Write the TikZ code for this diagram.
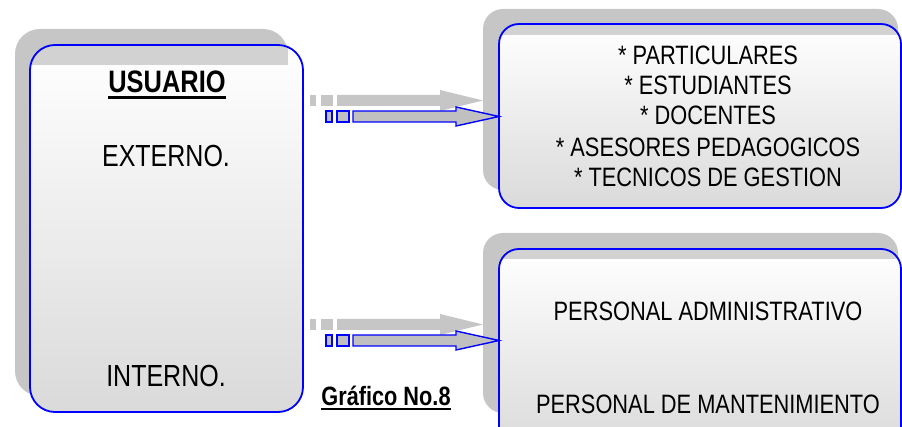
\documentclass[tikz,border=0pt]{standalone}
\usepackage{fontspec}
\setmainfont{Liberation Sans}[FakeStretch=0.82]
\definecolor{shadowgray}{HTML}{C6C6C6}
\definecolor{bandgray}{HTML}{D2D2D2}
\definecolor{boxblue}{HTML}{0000FF}
\definecolor{botgray}{HTML}{DADADA}
\definecolor{arrowgray}{HTML}{C0C0C0}
\begin{document}
\begin{tikzpicture}[x=1pt,y=-1pt,
  shadowbox/.style={fill=shadowgray},
  mainfill/.style={top color=white,bottom color=botgray},
  mainline/.style={draw=boxblue,line width=1.8pt},
  band/.style={fill=bandgray},
  grayarrow/.style={fill=shadowgray},
  bluearrow/.style={fill=arrowgray,draw=boxblue,line width=1.4pt,line join=miter},
  bigtext/.style={font=\fontsize{30.5}{34}\selectfont,inner sep=0pt,anchor=base},
  listtext/.style={font=\fontsize{26.6}{30}\selectfont,inner sep=0pt,anchor=base},
  titletext/.style={font=\bfseries\fontsize{31}{34}\selectfont,inner sep=0pt,anchor=base},
  captext/.style={font=\bfseries\fontsize{26.5}{30}\selectfont,inner sep=0pt,anchor=base}]
\useasboundingbox (0,0) rectangle (902,427);
\fill[white] (0,0) rectangle (902,427);

% ---- left box
\fill[shadowbox,rounded corners=25pt] (15,29) rectangle (288,396);
\path[mainfill,rounded corners=25pt] (30,45) rectangle (303,412);
\begin{scope}
  \clip[rounded corners=25pt] (30,45) rectangle (303,412);
  \fill[band] (30,45) rectangle (288,65);
\end{scope}
\draw[mainline,rounded corners=25pt] (30,45) rectangle (303,412);

% ---- top right box
\fill[shadowbox,rounded corners=20pt] (483,9) rectangle (898,190);
\path[mainfill,rounded corners=20pt] (499,24) rectangle (901,208);
\begin{scope}
  \clip[rounded corners=20pt] (499,24) rectangle (901,208);
  \fill[band] (499,24) rectangle (898,35);
\end{scope}
\draw[mainline,rounded corners=20pt] (499,24) rectangle (901,208);

% ---- bottom right box
\fill[shadowbox,rounded corners=20pt] (483,233) rectangle (898,413);
\path[mainfill,rounded corners=20pt] (499,249) rectangle (901,450);
\begin{scope}
  \clip[rounded corners=20pt] (499,249) rectangle (901,450);
  \fill[band] (499,249) rectangle (898,259);
\end{scope}
\draw[mainline,rounded corners=20pt] (499,249) rectangle (901,450);

% ---- arrows
\foreach \dy in {0,224}{
  \begin{scope}[yshift=-\dy pt]
    \fill[grayarrow] (310,95) rectangle (316,106);
    \fill[grayarrow] (321,95) rectangle (333,106);
    \fill[grayarrow] (337,95) -- (440,95) -- (440,90) -- (483,100.5) -- (440,111) -- (440,106) -- (337,106) -- cycle;
    \draw[bluearrow] (326,111) rectangle (332,122);
    \draw[bluearrow] (337,111) rectangle (349,122);
    \draw[bluearrow] (353,111) -- (456,111) -- (456,107) -- (499,116.5) -- (456,126) -- (456,122) -- (353,122) -- cycle;
  \end{scope}
}

% ---- texts
\node[titletext] (usuario) at (167,93) {USUARIO};
\draw[line width=2.6pt] ([yshift=-4.5pt]usuario.base west) -- ([yshift=-4.5pt]usuario.base east);
\node[bigtext] (externo) at (166,167) {EXTERNO.};
\node[bigtext] (interno) at (166,387) {INTERNO.};
\node[captext] (grafico) at (386,405) {Gráfico No.8};
\draw[line width=2pt] ([yshift=-4pt]grafico.base west) -- ([yshift=-4pt]grafico.base east);

\node[listtext] (l1) at (708,65) {* PARTICULARES};
\node[listtext] (l2) at (708,95) {* ESTUDIANTES};
\node[listtext] (l3) at (708,125) {* DOCENTES};
\node[listtext] (l4) at (708,157) {* ASESORES PEDAGOGICOS};
\node[listtext] (l5) at (708,187) {* TECNICOS DE GESTION};

\node[listtext] (p1) at (708,321) {PERSONAL ADMINISTRATIVO};
\node[listtext] (p2) at (708,413) {PERSONAL DE MANTENIMIENTO};
\end{tikzpicture}
\end{document}
